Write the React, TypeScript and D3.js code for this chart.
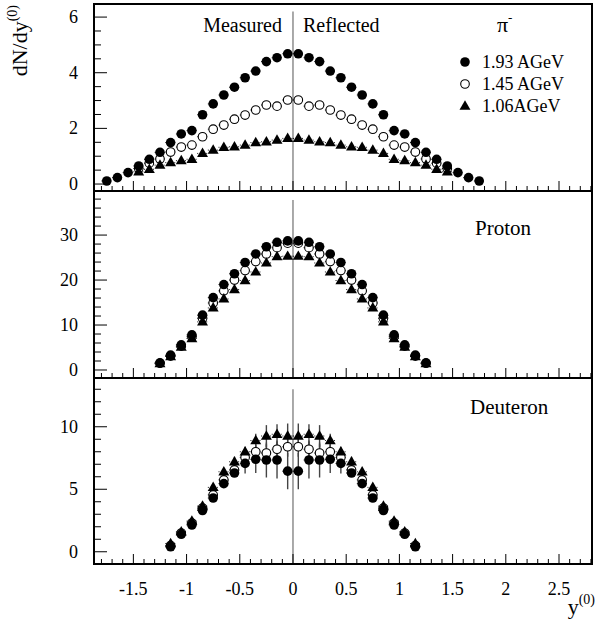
import React, { useEffect, useRef } from 'react';
import * as d3 from 'd3';

// measured half (y < 0); the reflected half is the mirror image
const pionRap = [-1.75, -1.65, -1.55, -1.45, -1.35, -1.25, -1.15, -1.05, -0.95, -0.85, -0.75, -0.65, -0.55, -0.45, -0.35, -0.25, -0.15, -0.05];
const pion193 = [0.11, 0.23, 0.41, 0.65, 0.89, 1.14, 1.49, 1.8, 1.92, 2.49, 2.88, 3.2, 3.48, 3.82, 4.06, 4.4, 4.54, 4.68];
const pion145 = [null, null, null, 0.56, 0.75, 0.9, 1.15, 1.33, 1.4, 1.7, 1.97, 2.12, 2.33, 2.48, 2.66, 2.84, 2.8, 3.02];
const pion106 = [null, null, null, 0.44, 0.53, 0.68, 0.77, 0.84, 0.89, 1.1, 1.22, 1.32, 1.34, 1.4, 1.49, 1.52, 1.58, 1.64];

const protonRap = [-1.25, -1.15, -1.05, -0.95, -0.85, -0.75, -0.65, -0.55, -0.45, -0.35, -0.25, -0.15, -0.05];
const proton193 = [1.6, 3.3, 5.6, 7.8, 12.2, 16.1, 19.0, 21.4, 23.9, 25.8, 27.4, 28.4, 28.7];
const proton145 = [1.5, 3.1, 5.3, 7.4, 11.5, 14.9, 17.6, 20.0, 22.1, 24.1, 25.8, 27.2, 28.2];
const proton106 = [1.4, 3.0, 5.1, 7.0, 10.7, 13.8, 15.8, 17.9, 19.9, 21.8, 23.8, 25.2, 25.3];

const deutRap = [-1.15, -1.05, -0.95, -0.85, -0.75, -0.65, -0.55, -0.45, -0.35, -0.25, -0.15, -0.05];
const deut193 = [0.4, 1.4, 2.14, 3.3, 4.3, 5.45, 6.3, 7.07, 7.4, 7.34, 7.34, 6.45];
const deut145 = [0.5, 1.5, 2.3, 3.5, 4.55, 5.75, 6.55, 7.55, 8.0, 7.9, 8.2, 8.4];
const deut106 = [0.65, 1.6, 2.45, 3.65, 5.15, 6.4, 7.2, 8.0, 8.9, 9.26, 9.4, 9.26];
const deut193Err = [0, 0, 0, 0, 0, 0, 0.3, 0.8, 1.1, 1.4, 1.47, 1.45];
const deut145Err = [0, 0, 0, 0, 0, 0, 0.3, 0.4, 0.6, 0.7, 0.7, 0.8];
const deut106Err = [0, 0, 0, 0, 0, 0, 0.4, 0.4, 0.55, 0.87, 0.8, 1.0];

const energies = ['1.93 AGeV', '1.45 AGeV', '1.06AGeV'];
const xMajor = [-1.5, -1, -0.5, 0, 0.5, 1, 1.5, 2, 2.5];

const FONT = '"Liberation Serif", "Times New Roman", serif';
const L = 94, R = 592;

const App = () => {
  const ref = useRef(null);

  useEffect(() => {
    const svg = d3.select(ref.current);
    svg.selectAll('*').remove();

    const x = d3.scaleLinear().domain([-1.87, 2.81]).range([L, R]);

    const panels = [
      { top: 4, bottom: 191, domain: [-0.25, 6.47], major: [0, 2, 4, 6], minor: 0.5, lineTop: 6.2,
        rap: pionRap, series: [pion193, pion145, pion106], errs: null, name: null },
      { top: 191, bottom: 378, domain: [-1.78, 39.8], major: [0, 10, 20, 30], minor: 2, lineTop: 37.8,
        rap: protonRap, series: [proton193, proton145, proton106], errs: null, name: 'Proton' },
      { top: 378, bottom: 564, domain: [-0.98, 13.9], major: [0, 5, 10], minor: 1, lineTop: 13,
        rap: deutRap, series: [deut193, deut145, deut106], errs: [deut193Err, deut145Err, deut106Err], name: 'Deuteron' },
    ];

    const tri = d3.symbol(d3.symbolTriangle, 52);

    const drawMarker = (g, kind, cx, cy) => {
      if (kind === 0) {
        g.append('circle').attr('cx', cx).attr('cy', cy).attr('r', 4.8).attr('fill', '#000');
      } else if (kind === 1) {
        g.append('circle').attr('cx', cx).attr('cy', cy).attr('r', 4.3)
          .attr('fill', '#fff').attr('stroke', '#000').attr('stroke-width', 1.1);
      } else {
        g.append('path').attr('d', tri()).attr('transform', `translate(${cx},${cy + 0.5})`).attr('fill', '#000');
      }
    };

    panels.forEach((p, pi) => {
      const y = d3.scaleLinear().domain(p.domain).range([p.bottom, p.top]);
      const g = svg.append('g');

      // vertical reflection line at y(0) = 0
      g.append('line').attr('x1', x(0)).attr('x2', x(0)).attr('y1', y(p.lineTop)).attr('y2', p.bottom)
        .attr('stroke', '#555').attr('stroke-width', 1);

      // points: measured + reflected
      const pts = [];
      p.series.forEach((vals, si) => {
        vals.forEach((v, i) => {
          if (v == null) return;
          const e = p.errs ? p.errs[si][i] : 0;
          pts.push({ s: si, x: p.rap[i], v, e });
          pts.push({ s: si, x: -p.rap[i], v, e });
        });
      });

      // error bars
      pts.filter(d => d.e > 0).forEach(d => {
        g.append('line').attr('x1', x(d.x)).attr('x2', x(d.x)).attr('y1', y(d.v - d.e)).attr('y2', y(d.v + d.e))
          .attr('stroke', '#444').attr('stroke-width', 1.4);
      });
      // dotted bin widths
      pts.forEach(d => {
        g.append('line').attr('x1', x(d.x - 0.05)).attr('x2', x(d.x + 0.05)).attr('y1', y(d.v)).attr('y2', y(d.v))
          .attr('stroke', '#000').attr('stroke-width', 0.9).attr('stroke-dasharray', '1,2');
      });

      [1, 2, 0].forEach(si => {
        pts.filter(d => d.s === si).forEach(d => drawMarker(g, si, x(d.x), y(d.v)));
      });

      // y ticks
      const minors = d3.range(0, p.domain[1], p.minor);
      minors.forEach(t => {
        const isMajor = p.major.some(m => Math.abs(m - t) < 1e-6);
        g.append('line').attr('x1', L).attr('x2', L + (isMajor ? 13 : 7)).attr('y1', y(t)).attr('y2', y(t))
          .attr('stroke', '#000').attr('stroke-width', 1);
      });
      p.major.forEach(t => {
        g.append('text').attr('x', 78).attr('y', y(t) + 6).attr('text-anchor', 'end')
          .attr('font-family', FONT).attr('font-size', 18).text(t);
      });

      // x ticks
      d3.range(-18, 29).forEach(k => {
        const t = k / 10;
        const isMajor = Math.abs(t * 2 - Math.round(t * 2)) < 1e-6;
        g.append('line').attr('x1', x(t)).attr('x2', x(t)).attr('y1', p.bottom).attr('y2', p.bottom - (isMajor ? 10 : 5))
          .attr('stroke', '#000').attr('stroke-width', 1);
      });

      if (p.name) {
        g.append('text').attr('x', pi === 1 ? 475 : 470).attr('y', pi === 1 ? 235 : 414)
          .attr('font-family', FONT).attr('font-size', 21).text(p.name);
      }

      if (pi === 0) {
        g.append('text').attr('x', 282).attr('y', 32).attr('text-anchor', 'end')
          .attr('font-family', FONT).attr('font-size', 20).text('Measured');
        g.append('text').attr('x', 303).attr('y', 32)
          .attr('font-family', FONT).attr('font-size', 20).text('Reflected');
        const pl = g.append('text').attr('x', 497).attr('y', 32).attr('font-family', FONT).attr('font-size', 22);
        pl.append('tspan').text('π');
        pl.append('tspan').attr('dy', -10).attr('font-size', 13).text('-');
        energies.forEach((lab, i) => {
          const ly = 62 + i * 22;
          drawMarker(g, i, 465, ly);
          g.append('text').attr('x', 482).attr('y', ly + 6)
            .attr('font-family', FONT).attr('font-size', 18).text(lab);
        });
      }

      g.append('rect').attr('x', L).attr('y', p.top).attr('width', R - L).attr('height', p.bottom - p.top)
        .attr('fill', 'none').attr('stroke', '#000').attr('stroke-width', 2);
    });

    // x tick labels
    xMajor.forEach(t => {
      svg.append('text').attr('x', x(t)).attr('y', 595).attr('text-anchor', 'middle')
        .attr('font-family', FONT).attr('font-size', 18).text(t);
    });

    // axis titles
    const xt = svg.append('text').attr('x', 595).attr('y', 614).attr('text-anchor', 'end')
      .attr('font-family', FONT).attr('font-size', 22);
    xt.append('tspan').text('y');
    xt.append('tspan').attr('dy', -10).attr('font-size', 14).text('(0)');

    const yt = svg.append('text').attr('transform', 'translate(27,5) rotate(-90)').attr('text-anchor', 'end')
      .attr('font-family', FONT).attr('font-size', 22);
    yt.append('tspan').text('dN/dy');
    yt.append('tspan').attr('dy', -10).attr('font-size', 14).text('(0)');
  }, []);

  return (
    <svg ref={ref} width={609} height={621} style={{ position: 'absolute', left: 0, top: 0, background: '#fff' }} />
  );
};

export default App;
